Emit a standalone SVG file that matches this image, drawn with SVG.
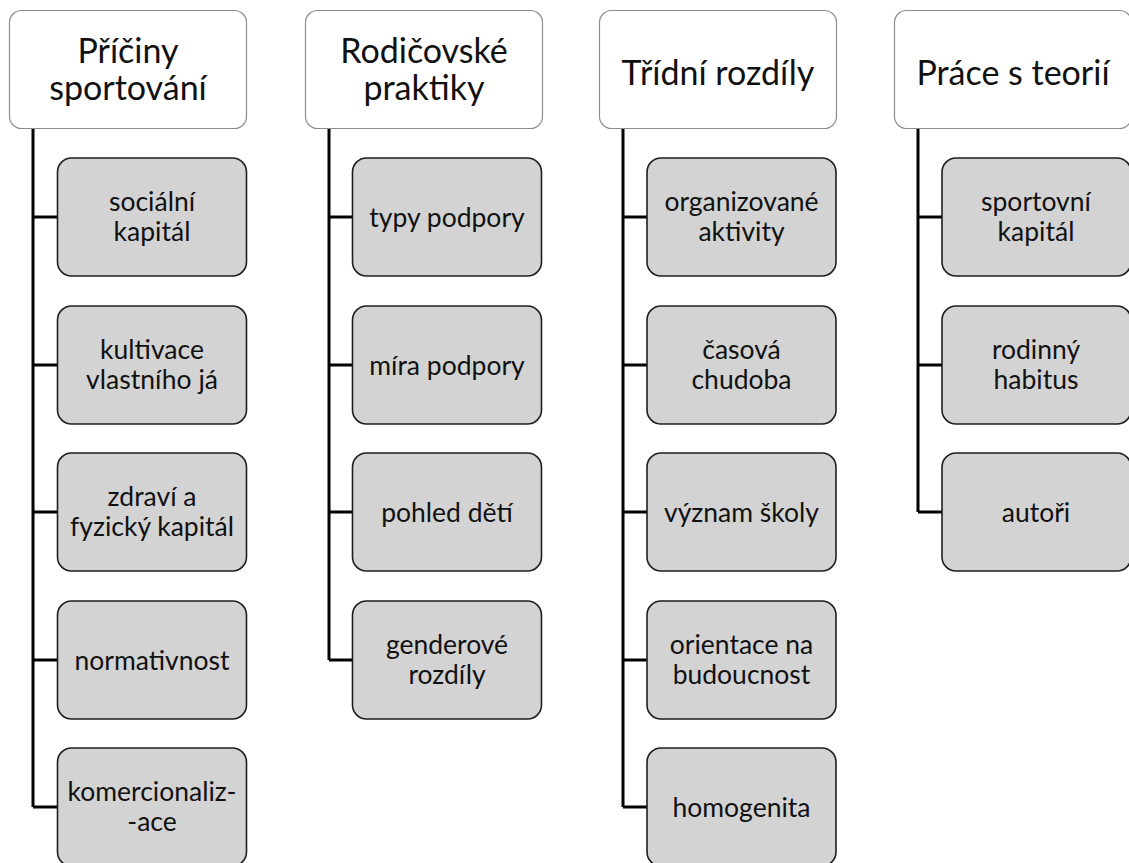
<svg xmlns="http://www.w3.org/2000/svg" width="1129" height="863" viewBox="0 0 1129 863">
<style>
.hdr{fill:#ffffff;stroke:#8c8c8c;stroke-width:1.2}
.child{fill:#d3d3d3;stroke:#1e1e1e;stroke-width:1.6}
.ht{font-family:Lato,"Open Sans",sans-serif;font-size:34px;fill:#111;text-anchor:middle}
.ct{font-family:Lato,"Open Sans",sans-serif;font-size:26.5px;fill:#111;text-anchor:middle}
.conn{fill:none;stroke:#000;stroke-width:3}
</style>
<rect width="1129" height="863" fill="#ffffff"/>
<g id="connectors">
<path class="conn" d="M33,128 V807 M33,217 H58 M33,365 H58 M33,512 H58 M33,660 H58 M33,807 H58"/>
<path class="conn" d="M329,128 V660 M329,217 H353 M329,365 H353 M329,512 H353 M329,660 H353"/>
<path class="conn" d="M623,128 V807 M623,217 H647 M623,365 H647 M623,512 H647 M623,660 H647 M623,807 H647"/>
<path class="conn" d="M918,128 V512 M918,217 H942 M918,365 H942 M918,512 H942"/>
</g>
<g id="h1"><rect class="hdr" x="9.5" y="10.5" width="237" height="118" rx="12"/><text class="ht" x="128" y="63">Příčiny</text><text class="ht" x="128" y="100">sportování</text></g>
<g id="h2"><rect class="hdr" x="305.5" y="10.5" width="237" height="118" rx="12"/><text class="ht" x="424" y="63">Rodičovské</text><text class="ht" x="424" y="100">praktiky</text></g>
<g id="h3"><rect class="hdr" x="599.5" y="10.5" width="237" height="118" rx="12"/><text class="ht" x="718" y="85">Třídní rozdíly</text></g>
<g id="h4"><rect class="hdr" x="894.5" y="10.5" width="237" height="118" rx="12"/><text class="ht" x="1013" y="85">Práce s teorií</text></g>

<g id="c1a"><rect class="child" x="57.5" y="158" width="189" height="118" rx="14"/><text class="ct" x="152" y="210.5">sociální</text><text class="ct" x="152" y="240.5">kapitál</text></g>
<g id="c1b"><rect class="child" x="57.5" y="306" width="189" height="118" rx="14"/><text class="ct" x="152" y="358.5">kultivace</text><text class="ct" x="152" y="388.5">vlastního já</text></g>
<g id="c1c"><rect class="child" x="57.5" y="453" width="189" height="118" rx="14"/><text class="ct" x="152" y="505.5">zdraví a</text><text class="ct" x="152" y="535.5">fyzický kapitál</text></g>
<g id="c1d"><rect class="child" x="57.5" y="601" width="189" height="118" rx="14"/><text class="ct" x="152" y="670">normativnost</text></g>
<g id="c1e"><rect class="child" x="57.5" y="748" width="189" height="118" rx="14"/><text class="ct" x="152" y="800.5">komercionaliz-</text><text class="ct" x="152" y="830.5">-ace</text></g>

<g id="c2a"><rect class="child" x="352.5" y="158" width="189" height="118" rx="14"/><text class="ct" x="447" y="227">typy podpory</text></g>
<g id="c2b"><rect class="child" x="352.5" y="306" width="189" height="118" rx="14"/><text class="ct" x="447" y="375">míra podpory</text></g>
<g id="c2c"><rect class="child" x="352.5" y="453" width="189" height="118" rx="14"/><text class="ct" x="447" y="522">pohled dětí</text></g>
<g id="c2d"><rect class="child" x="352.5" y="601" width="189" height="118" rx="14"/><text class="ct" x="447" y="653.5">genderové</text><text class="ct" x="447" y="683.5">rozdíly</text></g>

<g id="c3a"><rect class="child" x="647" y="158" width="189" height="118" rx="14"/><text class="ct" x="741.5" y="210.5">organizované</text><text class="ct" x="741.5" y="240.5">aktivity</text></g>
<g id="c3b"><rect class="child" x="647" y="306" width="189" height="118" rx="14"/><text class="ct" x="741.5" y="358.5">časová</text><text class="ct" x="741.5" y="388.5">chudoba</text></g>
<g id="c3c"><rect class="child" x="647" y="453" width="189" height="118" rx="14"/><text class="ct" x="741.5" y="522">význam školy</text></g>
<g id="c3d"><rect class="child" x="647" y="601" width="189" height="118" rx="14"/><text class="ct" x="741.5" y="653.5">orientace na</text><text class="ct" x="741.5" y="683.5">budoucnost</text></g>
<g id="c3e"><rect class="child" x="647" y="748" width="189" height="118" rx="14"/><text class="ct" x="741.5" y="817">homogenita</text></g>

<g id="c4a"><rect class="child" x="942" y="158" width="189" height="118" rx="14"/><text class="ct" x="1036" y="210.5">sportovní</text><text class="ct" x="1036" y="240.5">kapitál</text></g>
<g id="c4b"><rect class="child" x="942" y="306" width="189" height="118" rx="14"/><text class="ct" x="1036" y="358.5">rodinný</text><text class="ct" x="1036" y="388.5">habitus</text></g>
<g id="c4c"><rect class="child" x="942" y="453" width="189" height="118" rx="14"/><text class="ct" x="1036" y="522">autoři</text></g>
</svg>
